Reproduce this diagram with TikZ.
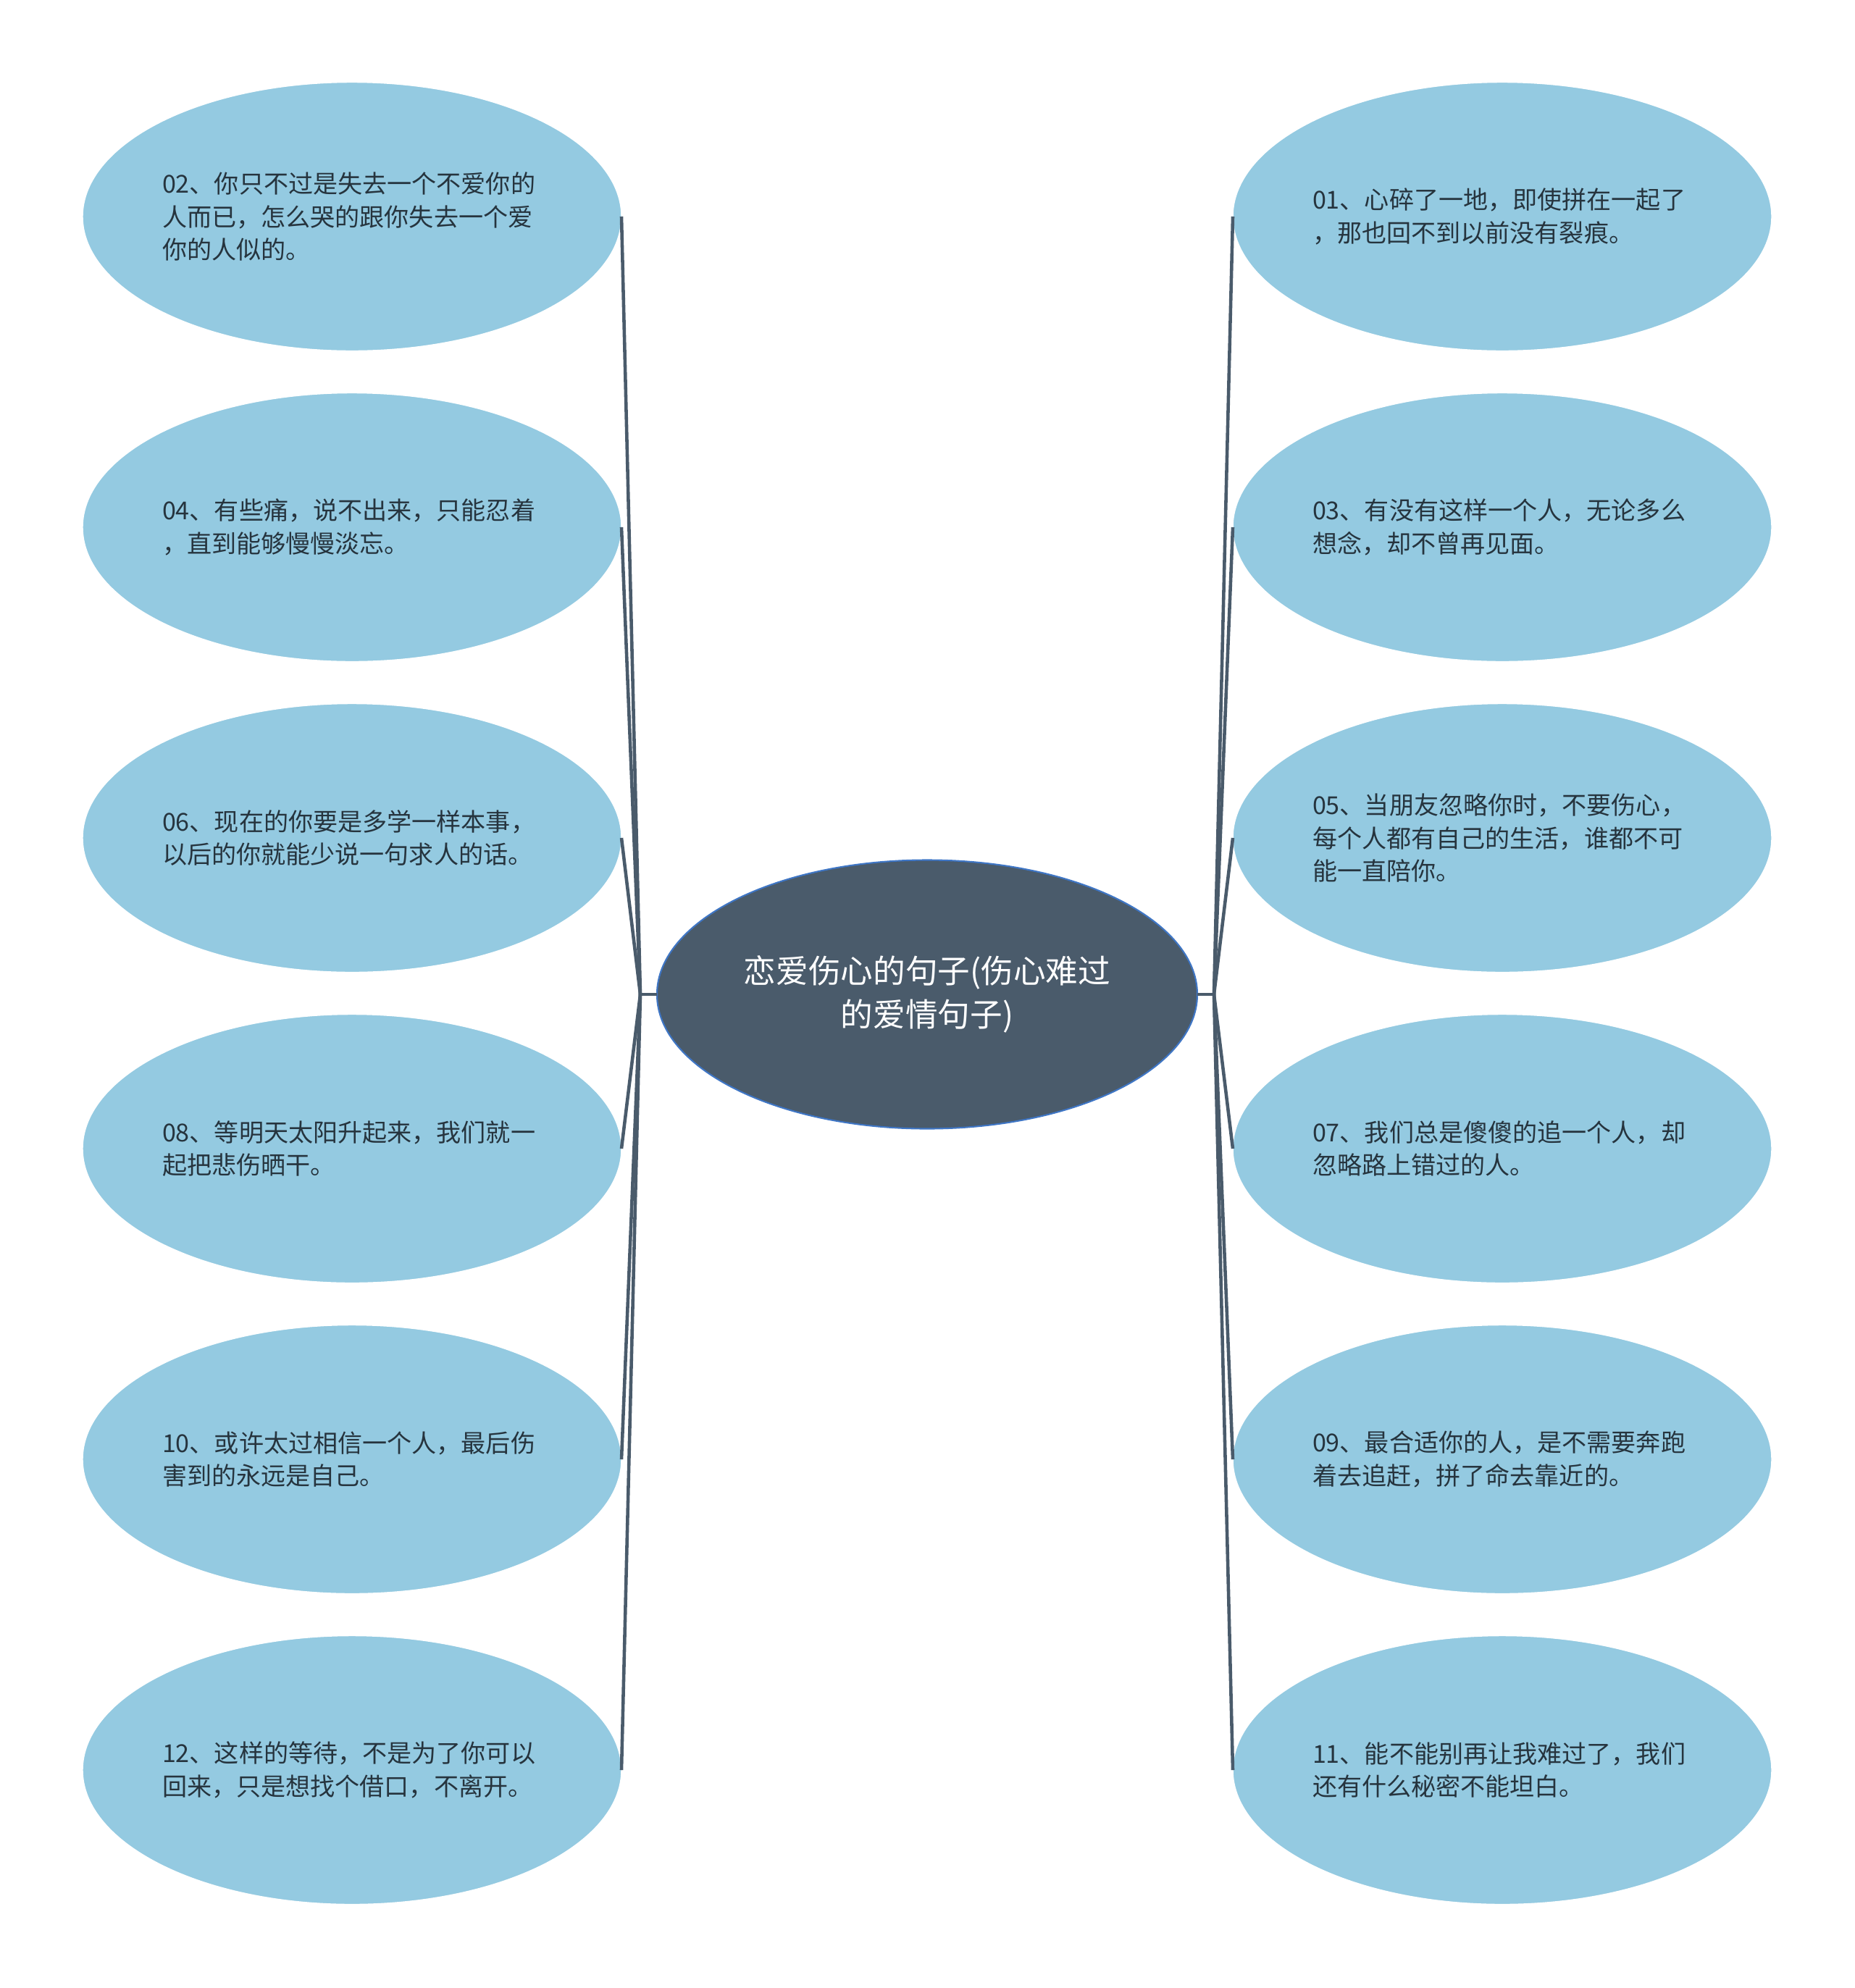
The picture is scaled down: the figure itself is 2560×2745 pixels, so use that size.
\documentclass[tikz,border=0pt]{standalone}
\usepackage{fontspec}
\setmainfont{Noto Sans CJK SC}
\usetikzlibrary{positioning, shapes.geometric}
\definecolor{leafblue}{HTML}{94CAE1}
\definecolor{rootslate}{HTML}{4A5B6B}
\definecolor{rootrim}{HTML}{3F76C5}
\definecolor{inkdark}{HTML}{26343E}
\tikzset{
    leaf/.style={ellipse, draw=white, line width=0.4pt, fill=leafblue, minimum width=74.4mm, minimum height=37.1mm,
        inner sep=0pt, outer sep=0pt, text width=52.4mm, align=left, text=inkdark, font=\fontsize{9.7pt}{12.9pt}\selectfont},
    root/.style={ellipse, draw=rootrim, line width=0.6pt, fill=rootslate, minimum width=74.6mm, minimum height=37.1mm,
        inner sep=0pt, outer sep=0pt, text width=52mm, align=center, text=white, font=\fontsize{12.7pt}{16.9pt}\selectfont},
    branch/.style={draw=rootslate, line width=1.3pt}
}

\begin{document}
\begin{tikzpicture}[x=0.1mm, y=-0.1mm]
        \useasboundingbox (0,0) rectangle (2560,2745);
        %Centre
        \node[root] (root) at (1280,1373) {恋爱伤心的句子(伤心难过\\的爱情句子)};
        %Left leaves
        \node[leaf] (l02) at (486,299) {02、你只不过是失去一个不爱你的\\人而已，怎么哭的跟你失去一个爱\\你的人似的。};
        \node[leaf] (l04) at (486,728) {04、有些痛，说不出来，只能忍着\\，直到能够慢慢淡忘。};
        \node[leaf] (l06) at (486,1157) {06、现在的你要是多学一样本事，\\以后的你就能少说一句求人的话。};
        \node[leaf] (l08) at (486,1586) {08、等明天太阳升起来，我们就一\\起把悲伤晒干。};
        \node[leaf] (l10) at (486,2015) {10、或许太过相信一个人，最后伤\\害到的永远是自己。};
        \node[leaf] (l12) at (486,2444) {12、这样的等待，不是为了你可以\\回来，只是想找个借口，不离开。};
        %Right leaves
        \node[leaf] (r01) at (2074,299) {01、心碎了一地，即使拼在一起了\\，那也回不到以前没有裂痕。};
        \node[leaf] (r03) at (2074,728) {03、有没有这样一个人，无论多么\\想念，却不曾再见面。};
        \node[leaf] (r05) at (2074,1157) {05、当朋友忽略你时，不要伤心，\\每个人都有自己的生活，谁都不可\\能一直陪你。};
        \node[leaf] (r07) at (2074,1586) {07、我们总是傻傻的追一个人，却\\忽略路上错过的人。};
        \node[leaf] (r09) at (2074,2015) {09、最合适你的人，是不需要奔跑\\着去追赶，拼了命去靠近的。};
        \node[leaf] (r11) at (2074,2444) {11、能不能别再让我难过了，我们\\还有什么秘密不能坦白。};
        %Hubs
        \coordinate (lhub) at (884,1373);
        \coordinate (rhub) at (1676,1373);
        %Branches
        \draw[branch] (root.west) -- (lhub);
        \draw[branch] (root.east) -- (rhub);
        \foreach \n in {02,04,06,08,10,12}{
            \draw[branch] (lhub) -- (l\n.east);
        }
        \foreach \n in {01,03,05,07,09,11}{
            \draw[branch] (rhub) -- (r\n.west);
        }
\end{tikzpicture}
\end{document}
